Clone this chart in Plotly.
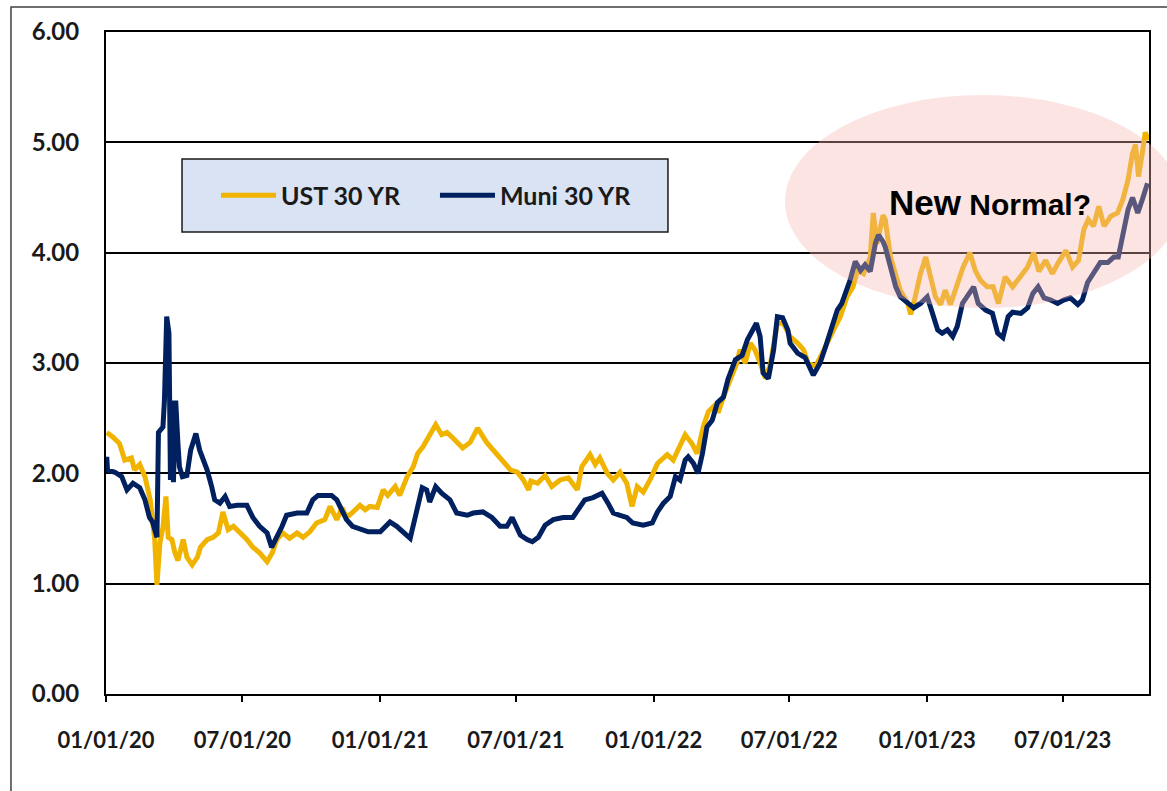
import plotly.graph_objects as go

ust_dates = [
    "2020-01-02", "2020-01-10", "2020-01-19", "2020-01-26", "2020-02-04", "2020-02-08", "2020-02-15",
    "2020-02-22", "2020-02-29", "2020-03-03", "2020-03-06", "2020-03-09", "2020-03-13", "2020-03-17",
    "2020-03-21", "2020-03-24", "2020-03-29", "2020-04-02", "2020-04-06", "2020-04-13", "2020-04-18",
    "2020-04-25", "2020-05-02", "2020-05-06", "2020-05-15", "2020-05-23", "2020-05-30", "2020-06-05",
    "2020-06-12", "2020-06-19", "2020-06-28", "2020-07-07", "2020-07-15", "2020-07-24", "2020-08-03",
    "2020-08-10", "2020-08-16", "2020-08-24", "2020-09-02", "2020-09-12", "2020-09-20", "2020-09-29",
    "2020-10-08", "2020-10-19", "2020-10-26", "2020-11-04", "2020-11-11", "2020-11-17", "2020-11-24",
    "2020-12-05", "2020-12-12", "2020-12-18", "2020-12-28", "2021-01-05", "2021-01-11", "2021-01-21",
    "2021-01-27", "2021-02-06", "2021-02-14", "2021-02-20", "2021-02-27", "2021-03-06", "2021-03-16",
    "2021-03-24", "2021-03-31", "2021-04-08", "2021-04-21", "2021-05-01", "2021-05-11", "2021-05-23",
    "2021-06-03", "2021-06-13", "2021-06-24", "2021-07-03", "2021-07-11", "2021-07-18", "2021-07-21",
    "2021-07-30", "2021-08-09", "2021-08-18", "2021-08-29", "2021-09-09", "2021-09-21", "2021-09-27",
    "2021-10-08", "2021-10-15", "2021-10-21", "2021-10-31", "2021-11-08", "2021-11-17", "2021-11-26",
    "2021-12-03", "2021-12-10", "2021-12-18", "2021-12-27", "2022-01-06", "2022-01-19", "2022-01-27",
    "2022-02-05", "2022-02-12", "2022-02-21", "2022-02-28", "2022-03-08", "2022-03-15", "2022-03-24",
    "2022-03-28", "2022-04-04", "2022-04-22", "2022-04-26", "2022-05-03", "2022-05-10", "2022-05-16",
    "2022-05-23", "2022-05-30", "2022-06-06", "2022-06-15", "2022-06-23", "2022-07-02", "2022-07-12",
    "2022-07-20", "2022-07-26", "2022-08-05", "2022-08-14", "2022-08-22", "2022-08-29", "2022-09-07",
    "2022-09-16", "2022-09-24", "2022-09-30", "2022-10-08", "2022-10-17", "2022-10-21", "2022-10-26",
    "2022-11-03", "2022-11-06", "2022-11-13", "2022-11-20", "2022-11-26", "2022-12-06", "2022-12-10",
    "2022-12-16", "2022-12-23", "2022-12-30", "2023-01-05", "2023-01-12", "2023-01-19", "2023-01-25",
    "2023-02-01", "2023-02-10", "2023-02-18", "2023-02-27", "2023-03-06", "2023-03-13", "2023-03-22",
    "2023-03-30", "2023-04-06", "2023-04-15", "2023-04-25", "2023-05-05", "2023-05-15", "2023-05-23",
    "2023-05-30", "2023-06-08", "2023-06-17", "2023-06-25", "2023-07-05", "2023-07-14", "2023-07-22",
    "2023-07-29", "2023-08-04", "2023-08-11", "2023-08-18", "2023-08-25", "2023-09-03", "2023-09-12",
    "2023-09-19", "2023-09-26", "2023-10-02", "2023-10-06", "2023-10-10", "2023-10-15", "2023-10-19",
    "2023-10-23",
]
ust_yield = [
    2.37, 2.33, 2.27, 2.12, 2.14, 2.03, 2.08,
    1.97, 1.76, 1.58, 1.40, 0.99, 1.37, 1.51,
    1.79, 1.42, 1.40, 1.28, 1.21, 1.40, 1.24,
    1.17, 1.24, 1.33, 1.40, 1.42, 1.46, 1.65,
    1.49, 1.52, 1.46, 1.40, 1.33, 1.28, 1.20,
    1.28, 1.40, 1.46, 1.41, 1.46, 1.42, 1.47,
    1.55, 1.58, 1.70, 1.58, 1.69, 1.60, 1.64,
    1.71, 1.67, 1.70, 1.69, 1.85, 1.80, 1.88,
    1.80, 1.97, 2.06, 2.18, 2.24, 2.32, 2.44,
    2.35, 2.37, 2.32, 2.23, 2.28, 2.41, 2.28,
    2.19, 2.12, 2.03, 2.01, 1.94, 1.85, 1.93,
    1.91, 1.98, 1.88, 1.94, 1.96, 1.85, 2.06,
    2.17, 2.08, 2.14, 2.00, 1.94, 2.01, 1.91,
    1.70, 1.88, 1.83, 1.94, 2.09, 2.17, 2.12,
    2.24, 2.35, 2.27, 2.18, 2.42, 2.56, 2.62,
    2.55, 2.69, 3.00, 3.12, 3.00, 3.18, 3.12,
    3.00, 2.86, 3.00, 3.36, 3.36, 3.24, 3.18,
    3.12, 3.00, 2.97, 3.09, 3.19, 3.30, 3.42,
    3.60, 3.69, 3.84, 3.81, 3.96, 4.36, 4.08,
    4.34, 4.30, 3.96, 3.81, 3.66, 3.54, 3.44,
    3.60, 3.81, 3.96, 3.78, 3.60, 3.53, 3.66,
    3.53, 3.72, 3.87, 4.00, 3.84, 3.75, 3.69,
    3.69, 3.54, 3.78, 3.69, 3.78, 3.87, 4.00,
    3.83, 3.93, 3.81, 3.91, 4.02, 3.87, 3.93,
    4.21, 4.30, 4.24, 4.42, 4.24, 4.33, 4.36,
    4.48, 4.66, 4.90, 4.98, 4.69, 4.90, 5.09,
    5.02,
]

muni_dates = [
    "2020-01-02", "2020-01-03", "2020-01-13", "2020-01-22", "2020-01-29", "2020-02-06", "2020-02-15",
    "2020-02-22", "2020-02-28", "2020-03-03", "2020-03-09", "2020-03-11", "2020-03-17", "2020-03-19",
    "2020-03-22", "2020-03-25", "2020-03-27", "2020-03-30", "2020-03-31", "2020-04-03", "2020-04-06",
    "2020-04-08", "2020-04-12", "2020-04-18", "2020-04-23", "2020-04-30", "2020-05-05", "2020-05-15",
    "2020-05-21", "2020-05-25", "2020-06-01", "2020-06-08", "2020-06-14", "2020-06-24", "2020-07-07",
    "2020-07-15", "2020-07-24", "2020-08-03", "2020-08-09", "2020-08-16", "2020-08-23", "2020-08-29",
    "2020-09-12", "2020-09-25", "2020-10-03", "2020-10-10", "2020-10-16", "2020-10-28", "2020-11-04",
    "2020-11-11", "2020-11-17", "2020-11-25", "2020-12-05", "2020-12-16", "2021-01-01", "2021-01-14",
    "2021-01-23", "2021-01-31", "2021-02-10", "2021-02-18", "2021-02-26", "2021-03-04", "2021-03-08",
    "2021-03-16", "2021-03-24", "2021-04-04", "2021-04-13", "2021-04-27", "2021-05-05", "2021-05-18",
    "2021-05-30", "2021-06-10", "2021-06-19", "2021-06-26", "2021-07-07", "2021-07-16", "2021-07-23",
    "2021-07-31", "2021-08-09", "2021-08-20", "2021-09-02", "2021-09-15", "2021-09-25", "2021-10-01",
    "2021-10-12", "2021-10-24", "2021-11-01", "2021-11-08", "2021-11-17", "2021-11-26", "2021-12-04",
    "2021-12-18", "2021-12-30", "2022-01-06", "2022-01-14", "2022-01-23", "2022-01-30", "2022-02-05",
    "2022-02-12", "2022-02-16", "2022-02-23", "2022-03-01", "2022-03-07", "2022-03-13", "2022-03-20",
    "2022-03-27", "2022-04-04", "2022-04-10", "2022-04-20", "2022-04-29", "2022-05-06", "2022-05-12",
    "2022-05-18", "2022-05-23", "2022-05-27", "2022-06-03", "2022-06-10", "2022-06-15", "2022-06-22",
    "2022-06-29", "2022-07-02", "2022-07-12", "2022-07-22", "2022-08-02", "2022-08-11", "2022-08-18",
    "2022-08-25", "2022-09-03", "2022-09-09", "2022-09-16", "2022-09-20", "2022-09-27", "2022-10-04",
    "2022-10-10", "2022-10-17", "2022-10-24", "2022-10-28", "2022-11-03", "2022-11-06", "2022-11-13",
    "2022-11-20", "2022-11-26", "2022-12-06", "2022-12-14", "2022-12-23", "2023-01-01", "2023-01-08",
    "2023-01-15", "2023-01-21", "2023-01-28", "2023-02-04", "2023-02-10", "2023-02-17", "2023-02-25",
    "2023-03-04", "2023-03-10", "2023-03-20", "2023-03-29", "2023-04-05", "2023-04-12", "2023-04-19",
    "2023-04-25", "2023-05-06", "2023-05-15", "2023-05-22", "2023-05-29", "2023-06-06", "2023-06-15",
    "2023-06-24", "2023-07-02", "2023-07-11", "2023-07-21", "2023-07-27", "2023-08-03", "2023-08-11",
    "2023-08-20", "2023-08-30", "2023-09-07", "2023-09-13", "2023-09-19", "2023-09-26", "2023-10-02",
    "2023-10-09", "2023-10-15", "2023-10-22",
]
muni_yield = [
    2.15, 2.03, 2.01, 1.97, 1.85, 1.91, 1.87,
    1.76, 1.60, 1.56, 1.42, 2.37, 2.42, 2.66,
    3.42, 3.27, 1.94, 2.66, 1.92, 2.66, 2.27,
    2.06, 1.97, 1.98, 2.21, 2.36, 2.21, 2.03,
    1.88, 1.76, 1.73, 1.79, 1.70, 1.71, 1.71,
    1.60, 1.52, 1.46, 1.33, 1.42, 1.52, 1.62,
    1.64, 1.64, 1.76, 1.80, 1.80, 1.80, 1.76,
    1.65, 1.58, 1.52, 1.50, 1.47, 1.47, 1.56,
    1.52, 1.47, 1.41, 1.64, 1.87, 1.85, 1.74,
    1.88, 1.82, 1.76, 1.64, 1.62, 1.64, 1.65,
    1.60, 1.52, 1.52, 1.60, 1.44, 1.40, 1.38,
    1.42, 1.53, 1.58, 1.60, 1.60, 1.69, 1.76,
    1.78, 1.82, 1.73, 1.64, 1.62, 1.60, 1.55,
    1.53, 1.55, 1.65, 1.73, 1.79, 1.97, 1.94,
    2.12, 2.15, 2.09, 2.00, 2.18, 2.42, 2.48,
    2.64, 2.69, 2.85, 3.03, 3.07, 3.21, 3.28,
    3.36, 3.24, 2.91, 2.86, 3.12, 3.42, 3.41,
    3.30, 3.18, 3.09, 3.05, 2.89, 3.00, 3.14,
    3.28, 3.48, 3.54, 3.66, 3.75, 3.92, 3.84,
    3.89, 3.83, 4.09, 4.16, 4.10, 4.05, 3.87,
    3.69, 3.60, 3.54, 3.50, 3.54, 3.60, 3.45,
    3.30, 3.27, 3.30, 3.24, 3.33, 3.54, 3.63,
    3.69, 3.54, 3.48, 3.45, 3.27, 3.23, 3.42,
    3.46, 3.45, 3.50, 3.63, 3.69, 3.59, 3.57,
    3.54, 3.57, 3.59, 3.53, 3.57, 3.73, 3.81,
    3.91, 3.91, 3.96, 3.96, 4.18, 4.39, 4.50,
    4.36, 4.48, 4.63,
]

series_names = ["UST 30 YR", "Muni 30 YR"]
x_tick_dates = ["2020-01-01", "2020-07-01", "2021-01-01", "2021-07-01",
                "2022-01-01", "2022-07-01", "2023-01-01", "2023-07-01"]
y_ticks = [0, 1, 2, 3, 4, 5, 6]
annotation_text = "<span style='font-size:35px'>New</span> Normal?"

GOLD = "#F0B400"
NAVY = "#002060"

fig = go.Figure()
fig.add_trace(go.Scatter(x=ust_dates, y=ust_yield, mode="lines", name=series_names[0],
                         line=dict(color=GOLD, width=5), legend="legend"))
fig.add_trace(go.Scatter(x=muni_dates, y=muni_yield, mode="lines", name=series_names[1],
                         line=dict(color=NAVY, width=5), legend="legend2"))

xtickfont = dict(family="Lato", size=22, color="#1a1a1a", weight="bold")
ytickfont = dict(family="Lato", size=24, color="#1a1a1a", weight="bold")
legfont = dict(family="Lato", size=25, color="#1a1a1a", weight="bold")

fig.update_layout(
    width=1167, height=791,
    margin=dict(l=106, r=18, t=32, b=97),
    paper_bgcolor="white", plot_bgcolor="white",
    showlegend=True,
    legend=dict(orientation="h", x=0.1055, y=0.753, xanchor="left", yanchor="middle",
                bgcolor="rgba(0,0,0,0)", borderwidth=0, itemwidth=55, font=legfont),
    legend2=dict(orientation="h", x=0.3154, y=0.753, xanchor="left", yanchor="middle",
                 bgcolor="rgba(0,0,0,0)", borderwidth=0, itemwidth=55, font=legfont),
    xaxis=dict(type="date", range=["2020-01-01", "2023-10-24"],
               tickvals=x_tick_dates, tickformat="%m/%d/%y",
               ticks="outside", ticklen=6, tickwidth=2, tickcolor="black",
               showline=True, linecolor="black", linewidth=2, mirror=True,
               showgrid=False, zeroline=False, tickfont=xtickfont, ticklabelstandoff=20),
    yaxis=dict(range=[0, 6], tickvals=y_ticks, tickformat=".2f",
               showline=True, linecolor="black", linewidth=2, mirror=True,
               showgrid=True, gridcolor="black", gridwidth=2, zeroline=False,
               ticks="", tickfont=ytickfont, ticklabelstandoff=20),
    shapes=[
        # legend box
        dict(type="rect", xref="paper", yref="paper", x0=0.0729, x1=0.5388, y0=0.6979, y1=0.8082,
             fillcolor="#DAE3F3", line=dict(color="#1a1a1a", width=1.5), layer="above"),
        # highlight ellipse
        dict(type="circle", xref="paper", yref="paper", x0=0.651, x1=1.0307, y0=0.583, y1=0.9048,
             fillcolor="rgba(243,182,177,0.37)", line=dict(width=0), layer="above"),
        # outer frame
        dict(type="rect", xref="paper", yref="paper", x0=-0.0911, x1=1.2, y0=-0.3, y1=1.0378,
             line=dict(color="#404040", width=1.5), fillcolor="rgba(0,0,0,0)", layer="above"),
    ],
    annotations=[
        dict(xref="paper", yref="paper", x=0.7488, y=0.7417, xanchor="left", yanchor="middle",
             text=annotation_text, showarrow=False,
             font=dict(family="Liberation Sans", size=30, color="black", weight="bold")),
    ],
)

fig.write_html("out.html", config={"displayModeBar": False},
               post_script="document.body.style.margin='0';document.body.style.overflow='hidden';")
